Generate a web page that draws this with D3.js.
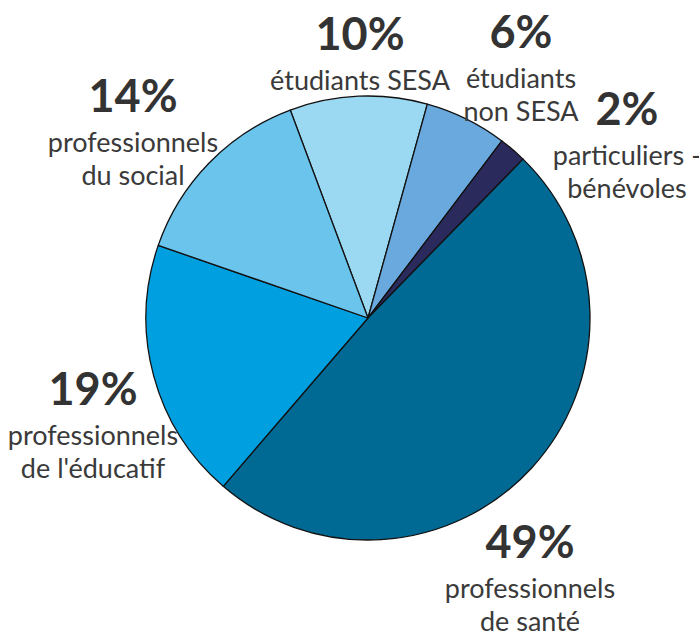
<!DOCTYPE html>
<html lang="fr">
<head>
<meta charset="utf-8">
<title>Répartition</title>
<script src="https://cdn.jsdelivr.net/npm/d3@7"></script>
<style>
  body { margin: 0; background: #fff; }
  text { font-family: Lato, "Open Sans", sans-serif; fill: #333; }
  .pct { font-weight: 700; font-size: 45px; }
  .lbl { font-size: 27px; fill: #3a3a3a; }
</style>
</head>
<body>
<script>
// data, clockwise from the top-left edge of the first slice
const categories = ["étudiants SESA", "étudiants non SESA", "particuliers - bénévoles",
                    "professionnels de santé", "professionnels de l'éducatif", "professionnels du social"];
const values = [10, 6, 2, 49, 19, 14];
const labelLines = [
  ["étudiants SESA"],
  ["étudiants", "non SESA"],
  ["particuliers -", "bénévoles"],
  ["professionnels", "de santé"],
  ["professionnels", "de l'éducatif"],
  ["professionnels", "du social"]
];
const colors = ["#9bd8f1", "#6aa9de", "#2b2a5c", "#006994", "#009fe0", "#6bc4ec"];

// label anchors (center x, baseline of the percentage)
const labelPos = [[360, 50], [521, 48], [627, 125], [530, 558], [93, 405], [133, 112]];

const w = 699, h = 635;
const cx = 368, cy = 318, r = 222;

const svg = d3.select("body").append("svg")
    .attr("width", w)
    .attr("height", h);

const pie = d3.pie()
    .sort(null)
    .startAngle(-20.5 * Math.PI / 180)
    .endAngle((360 - 20.5) * Math.PI / 180)
    .value(d => d);

const arc = d3.arc().innerRadius(0).outerRadius(r);

const g = svg.append("g").attr("transform", `translate(${cx},${cy})`);

g.selectAll("path")
    .data(pie(values))
    .enter().append("path")
    .attr("d", arc)
    .attr("fill", (d, i) => colors[i])
    .attr("stroke", "#111")
    .attr("stroke-width", 1.3)
    .attr("stroke-linejoin", "round");

const labels = svg.selectAll("g.label")
    .data(values)
    .enter().append("g")
    .attr("class", "label")
    .attr("transform", (d, i) => `translate(${labelPos[i][0]},${labelPos[i][1]})`);

labels.append("text")
    .attr("class", "pct")
    .attr("text-anchor", "middle")
    .text(d => d + "%");

labels.each(function (d, i) {
    d3.select(this).selectAll("text.lbl")
        .data(labelLines[i])
        .enter().append("text")
        .attr("class", "lbl")
        .attr("text-anchor", "middle")
        .attr("y", (t, j) => 40 + j * 33)
        .text(t => t);
});
</script>
</body>
</html>
